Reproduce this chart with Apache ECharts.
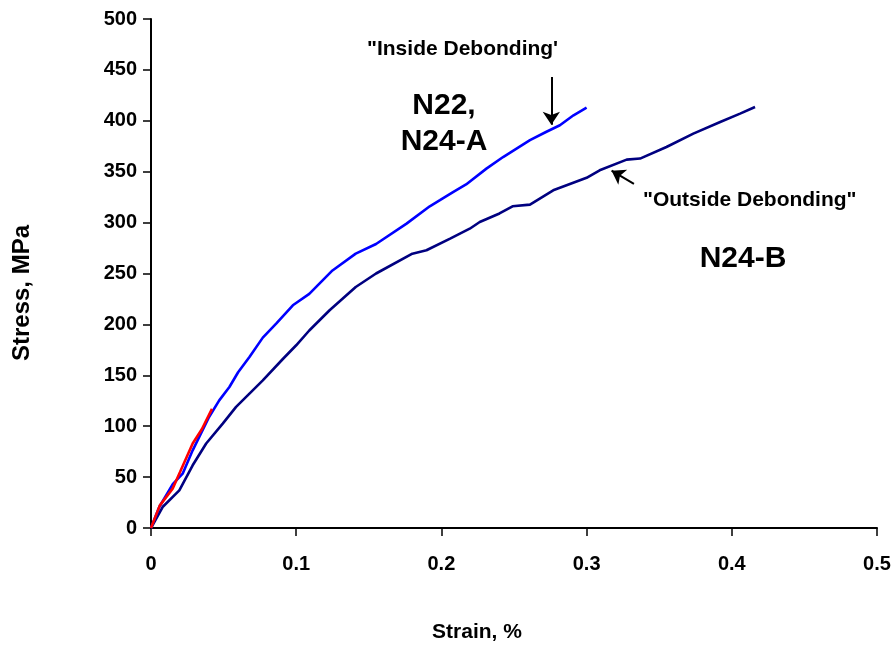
<!DOCTYPE html>
<html>
<head>
<meta charset="utf-8">
<script src="https://cdn.jsdelivr.net/npm/echarts@6/dist/echarts.min.js"></script>
<style>
  html, body { margin: 0; padding: 0; background: #fff; }
  #chart { width: 894px; height: 647px; }
</style>
</head>
<body>
<div id="chart"></div>
<script>
// N22, N24-A (blue)
const strainA = [0, 0.0057, 0.015, 0.0218, 0.0287, 0.040, 0.047, 0.054, 0.060, 0.0678, 0.077, 0.0862, 0.0977, 0.109, 0.125, 0.141, 0.155, 0.176, 0.192, 0.199, 0.208, 0.217, 0.231, 0.2425, 0.261, 0.272, 0.2816, 0.291, 0.300];
const stressA = [0, 20.6, 43, 53.4, 76.3, 109, 125.4, 138.5, 153, 168, 187, 200.8, 218.8, 230, 253, 269.5, 279, 299, 316, 322, 330, 337.5, 353, 364.4, 381, 389, 395.6, 405.4, 413];

// N24-B (navy)
const strainB = [0, 0.008, 0.0195, 0.0287, 0.038, 0.0494, 0.0586, 0.0678, 0.077, 0.0908, 0.1, 0.109, 0.123, 0.141, 0.155, 0.180, 0.1897, 0.206, 0.2195, 0.2264, 0.240, 0.249, 0.261, 0.277, 0.300, 0.309, 0.3276, 0.3368, 0.355, 0.3735, 0.392, 0.4057, 0.416];
const stressB = [0, 20.6, 37, 61.6, 83, 102.5, 119, 132, 145, 166, 179.5, 194, 213.9, 236.7, 250, 269.5, 272.8, 284.3, 294, 300.6, 309, 316, 317.7, 331.7, 344, 351.4, 361.9, 362.9, 374.3, 387.4, 398.8, 407, 413.6];

// initial short segment (red)
const strainC = [0, 0.006, 0.0149, 0.02, 0.0287, 0.035, 0.042];
const stressC = [0, 22, 38.7, 55, 83, 97, 117];

// debonding arrows, [strain, stress] start -> end
const insideArrow = [[0.2757, 443], [0.2757, 396]];
const outsideArrow = [[0.3326, 338], [0.3172, 351]];

const xTicks = [0, 0.1, 0.2, 0.3, 0.4, 0.5];
const yTicks = [0, 50, 100, 150, 200, 250, 300, 350, 400, 450, 500];

const FONT = '"Liberation Sans", Arial, sans-serif';

function pairs(xs, ys) {
  var out = [];
  for (var i = 0; i < xs.length; i++) {
    out.push([xs[i], ys[i]]);
  }
  return out;
}

function arrowLine(a) {
  return [[{ coord: a[0] }, { coord: a[1] }]];
}

const chart = echarts.init(document.getElementById('chart'), null, { renderer: 'canvas' });

const option = {
  backgroundColor: '#ffffff',
  animation: false,
  grid: {
    left: 151,
    top: 19,
    right: 17,
    bottom: 119,
    containLabel: false,
    outerBoundsMode: 'none'
  },
  xAxis: {
    type: 'value',
    min: xTicks[0],
    max: xTicks[xTicks.length - 1],
    interval: 0.1,
    axisLine: { show: true, lineStyle: { color: '#000', width: 2 } },
    axisTick: { show: true, inside: false, length: 8, lineStyle: { color: '#000', width: 1.5 } },
    splitLine: { show: false },
    axisLabel: {
      margin: 26,
      fontFamily: FONT,
      fontWeight: 'bold',
      fontSize: 20,
      color: '#000',
      formatter: function (v) { return String(Math.round(v * 10) / 10); }
    }
  },
  yAxis: {
    type: 'value',
    min: yTicks[0],
    max: yTicks[yTicks.length - 1],
    interval: 50,
    axisLine: { show: true, lineStyle: { color: '#000', width: 2 } },
    axisTick: { show: true, inside: false, length: 8, lineStyle: { color: '#000', width: 1.5 } },
    splitLine: { show: false },
    axisLabel: {
      margin: 14,
      fontFamily: FONT,
      fontWeight: 'bold',
      fontSize: 20,
      color: '#000'
    }
  },
  series: [
    {
      name: 'N24-B',
      type: 'line',
      data: pairs(strainB, stressB),
      showSymbol: false,
      lineStyle: { color: '#000080', width: 2.6 },
      markLine: {
        silent: true,
        symbol: ['none', 'arrow'],
        symbolSize: 13,
        label: { show: false },
        lineStyle: { color: '#000', width: 2, type: 'solid' },
        data: arrowLine(outsideArrow)
      }
    },
    {
      name: 'N22, N24-A',
      type: 'line',
      data: pairs(strainA, stressA),
      showSymbol: false,
      lineStyle: { color: '#0000ff', width: 2.6 },
      markLine: {
        silent: true,
        symbol: ['none', 'arrow'],
        symbolSize: 13,
        label: { show: false },
        lineStyle: { color: '#000', width: 2, type: 'solid' },
        data: arrowLine(insideArrow)
      }
    },
    {
      name: 'initial',
      type: 'line',
      data: pairs(strainC, stressC),
      showSymbol: false,
      lineStyle: { color: '#ff0000', width: 2.6 }
    }
  ],
  graphic: [
    {
      type: 'text', x: 22, y: 293, rotation: Math.PI / 2,
      style: { text: 'Stress, MPa', font: 'bold 24px ' + FONT, fill: '#000', align: 'center', verticalAlign: 'middle' }
    },
    {
      type: 'text', x: 477, y: 632,
      style: { text: 'Strain, %', font: 'bold 21px ' + FONT, fill: '#000', align: 'center', verticalAlign: 'middle' }
    },
    {
      type: 'text', left: 367, top: 39,
      style: { text: '"Inside Debonding\'', font: 'bold 21px ' + FONT, fill: '#000' }
    },
    {
      type: 'text', x: 444, y: 106,
      style: { text: 'N22,', font: 'bold 30px ' + FONT, fill: '#000', align: 'center', verticalAlign: 'middle' }
    },
    {
      type: 'text', x: 444, y: 142,
      style: { text: 'N24-A', font: 'bold 30px ' + FONT, fill: '#000', align: 'center', verticalAlign: 'middle' }
    },
    {
      type: 'text', left: 643, top: 190,
      style: { text: '"Outside Debonding"', font: 'bold 21px ' + FONT, fill: '#000' }
    },
    {
      type: 'text', x: 743, y: 259,
      style: { text: 'N24-B', font: 'bold 30px ' + FONT, fill: '#000', align: 'center', verticalAlign: 'middle' }
    }
  ]
};

chart.setOption(option);
</script>
</body>
</html>
